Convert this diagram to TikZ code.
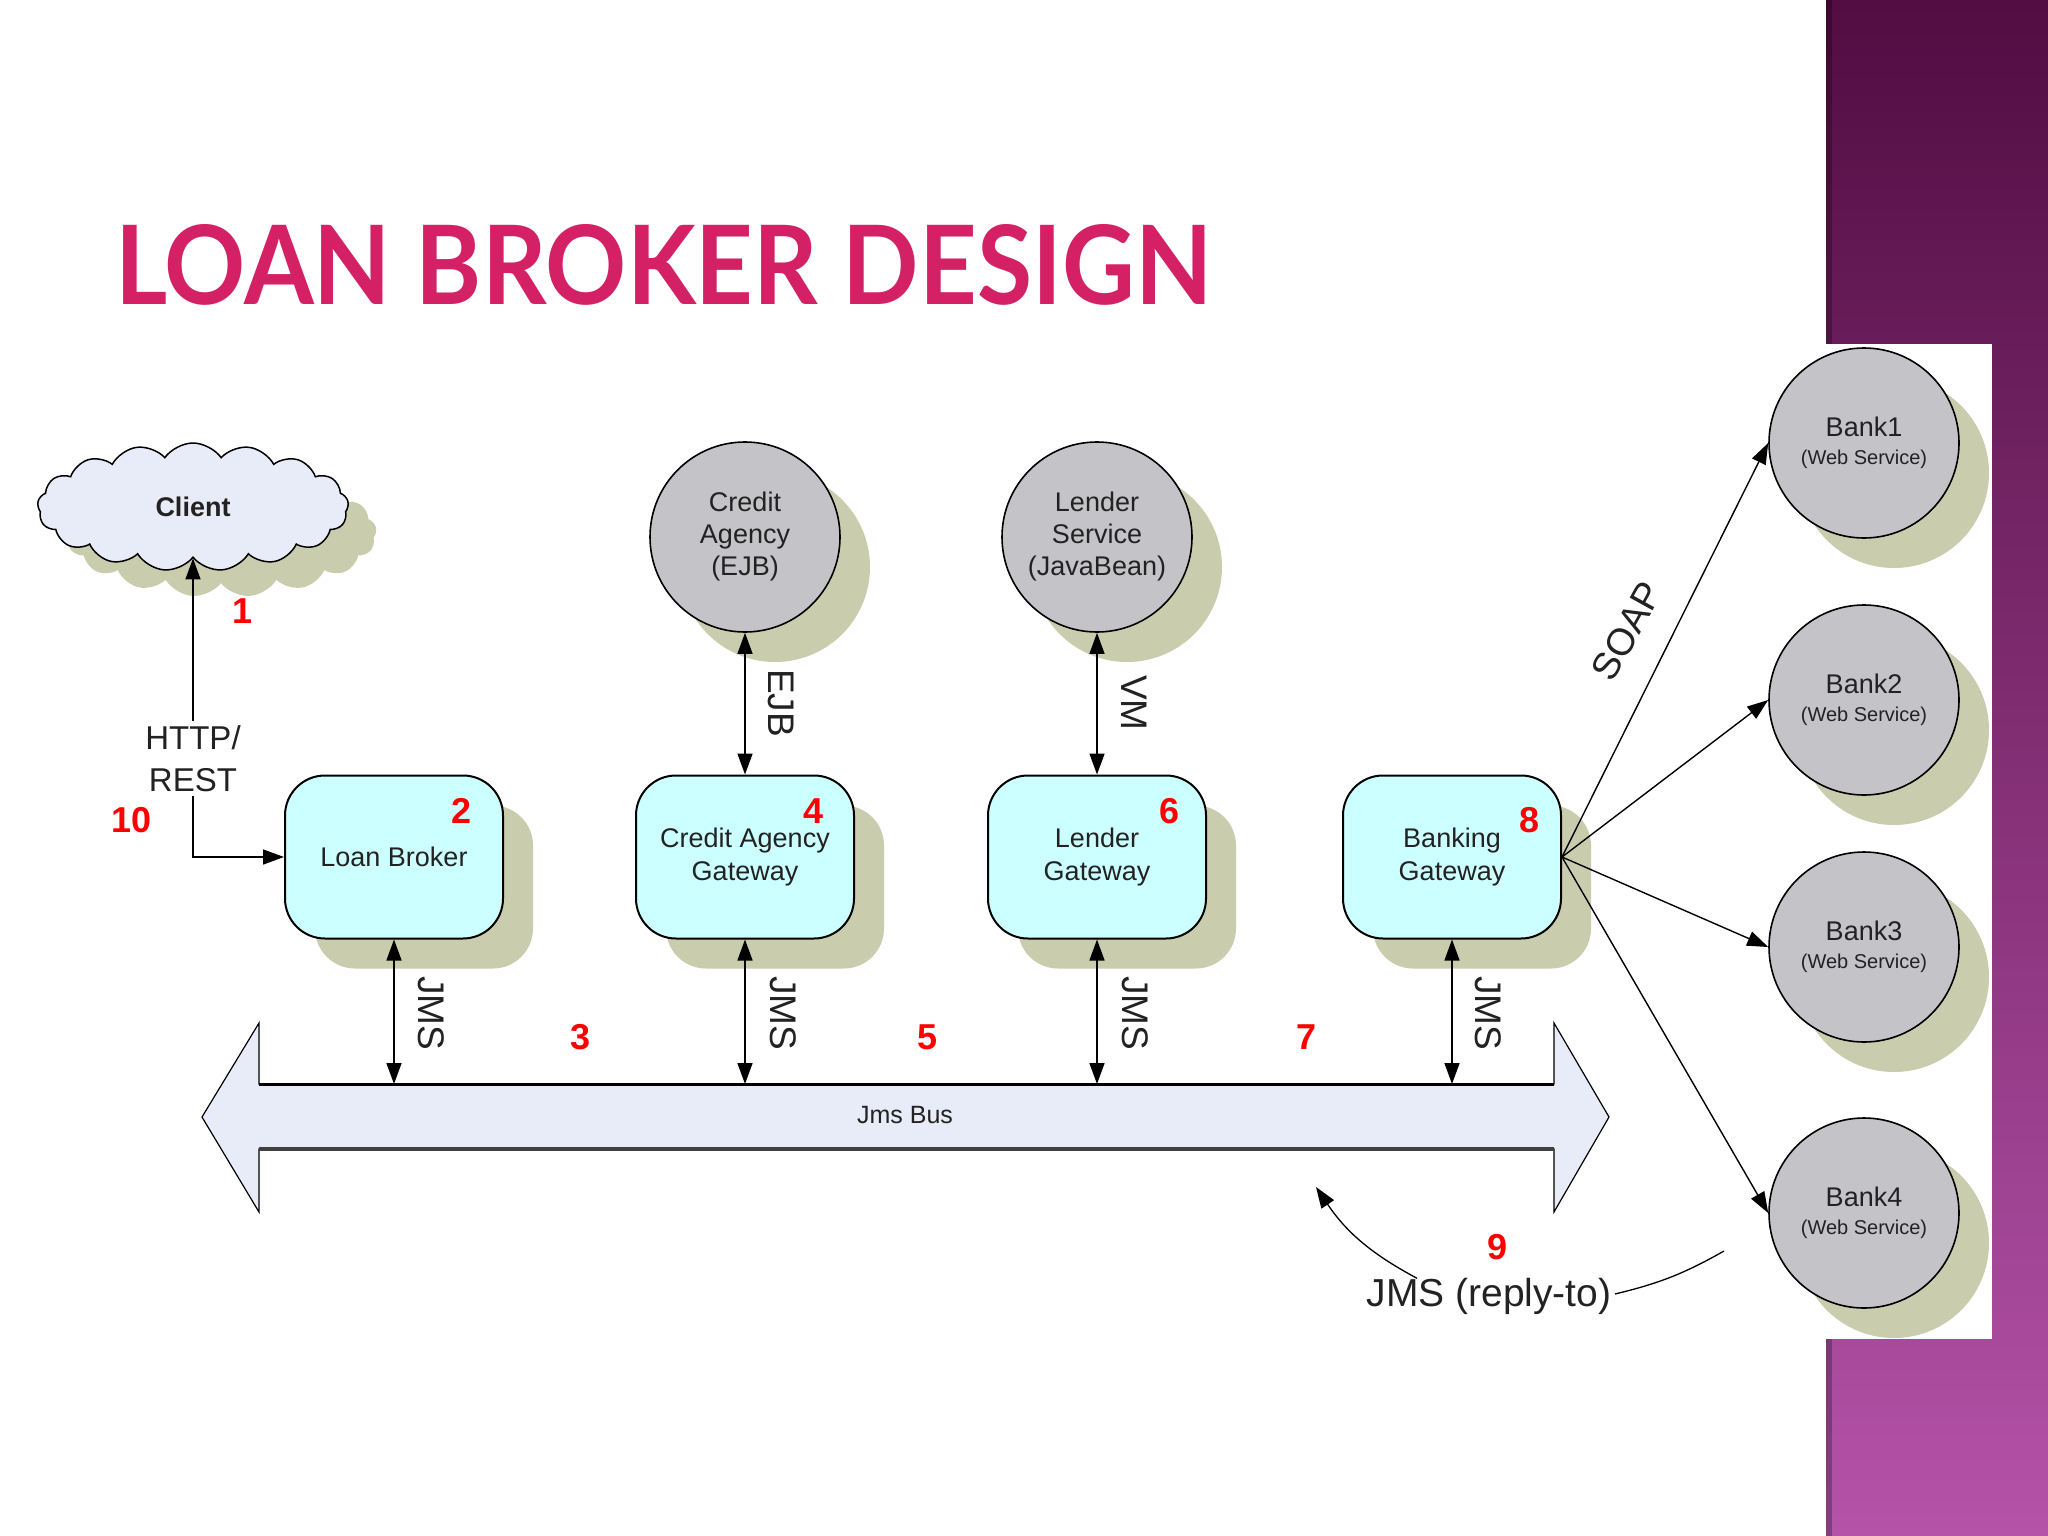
\documentclass[tikz,border=0pt]{standalone}
\usepackage{graphicx}
\usepackage{fontspec}
\setmainfont{Liberation Sans}
\newfontfamily\titlefont{Lato}
\usetikzlibrary{shapes.symbols,shadows,arrows.meta,calc}
\definecolor{titlecol}{HTML}{D42064}
\definecolor{shcol}{HTML}{C9CDAE}
\definecolor{boxfill}{HTML}{CCFFFF}
\definecolor{circfill}{HTML}{C4C4C8}
\definecolor{cloudfill}{HTML}{E8ECF8}
\definecolor{busfill}{HTML}{E8ECF8}
\definecolor{txt}{HTML}{222222}
\definecolor{purtop}{HTML}{520D42}
\definecolor{purbot}{HTML}{B552A9}
\newcommand{\fs}[2]{\fontsize{#1}{#2}\selectfont}
\begin{document}
\begin{tikzpicture}[x=1pt,y=-1pt,
  shad/.style={drop shadow={shadow xshift=30pt,shadow yshift=-30pt,fill=shcol,opacity=1}},
  gate/.style={shad,draw=black,line width=2pt,fill=boxfill,rounded corners=40pt,
    minimum width=218pt,minimum height=163pt,align=center,font=\fs{27}{33},text=txt},
  svc/.style={shad,circle,draw=black,line width=1.6pt,fill=circfill,minimum size=190pt,
    inner sep=0pt,align=center,font=\fs{27}{32},text=txt},
  num/.style={text=red,font=\fs{36}{36}\bfseries},
  lbl/.style={font=\fs{37}{37},text=txt},
  conn/.style={line width=1.5pt,{Triangle[length=21pt,width=15pt]}-{Triangle[length=21pt,width=15pt]}},
  oneway/.style={line width=1.4pt,-{Triangle[length=21pt,width=15pt]}}
]
\useasboundingbox (0,0) rectangle (2048,1536);
% background
\fill[white] (0,0) rectangle (2048,1536);
\shade[top color=purtop,bottom color=purbot] (1826,0) rectangle (2048,1536);
\fill[black,opacity=0.25] (1826,0) rectangle (1832,1536);
\fill[white] (1826,344) rectangle (1992,1339);

% title
\node[anchor=base west,inner sep=0pt,text=titlecol] (title) at (115,304)
  {\resizebox{1096pt}{80pt}{\titlefont\bfseries LOAN BROKER DESIGN}};

% client
\node[cloud,cloud puffs=17,cloud puff arc=110,aspect=2.5,draw=black,line width=1.5pt,
  fill=cloudfill,minimum width=311pt,minimum height=128pt,
  drop shadow={shadow xshift=28pt,shadow yshift=-26pt,fill=shcol,opacity=1},
  font=\fs{27}{27}\bfseries,text=txt] (client) at (193,507) {Client};

% gateways
\node[gate] (lb) at (394,857) {Loan Broker};
\node[gate] (cag) at (745,857) {Credit Agency\\Gateway};
\node[gate] (lg) at (1097,857) {Lender\\Gateway};
\node[gate] (bg) at (1452,857) {Banking\\Gateway};

% services
\node[svc] (ca) at (745,537) {Credit\\Agency\\(EJB)};
\node[svc] (ls) at (1097,537) {Lender\\Service\\(JavaBean)};

% banks
\node[svc] (b1) at (1864,443) {Bank1\\[-4pt]{\fs{20}{20}(Web Service)}};
\node[svc] (b2) at (1864,700) {Bank2\\[-4pt]{\fs{20}{20}(Web Service)}};
\node[svc] (b3) at (1864,947) {Bank3\\[-4pt]{\fs{20}{20}(Web Service)}};
\node[svc] (b4) at (1864,1213) {Bank4\\[-4pt]{\fs{20}{20}(Web Service)}};

% bus
\draw[line width=1.2pt,fill=busfill] (202,1117) -- (259,1023) -- (259,1084) -- (1554,1084)
  -- (1554,1023) -- (1609,1117) -- (1554,1212) -- (1554,1149) -- (259,1149) -- (259,1212) -- cycle;
\draw[line width=3pt] (259,1084) -- (1554,1084);
\draw[line width=3.5pt,black!75] (259,1149) -- (1554,1149);
\coordinate (bustop) at (0,1084);
\node[font=\fs{25}{25},text=txt] (busname) at (905,1115) {Jms Bus};

% client <-> loan broker
\draw[conn] (client.south) -- node[pos=0.67,fill=white,inner sep=4pt,align=center,
  font=\fs{33}{42},text=txt] (http) {HTTP/\\REST} (client.south |- lb.west) -- (lb.west);

% JMS links
\draw[conn] (lb.south) -- (lb.south |- bustop);
\draw[conn] (cag.south) -- (cag.south |- bustop);
\draw[conn] (lg.south) -- (lg.south |- bustop);
\draw[conn] (bg.south) -- (bg.south |- bustop);
\node[lbl,rotate=-90] (jms1) at (431,1013) {JMS};
\node[lbl,rotate=-90] (jms2) at (783,1013) {JMS};
\node[lbl,rotate=-90] (jms3) at (1135,1013) {JMS};
\node[lbl,rotate=-90] (jms4) at (1488,1013) {JMS};

% EJB / VM
\draw[conn] (cag.north) -- (ca.south);
\draw[conn] (lg.north) -- (ls.south);
\node[lbl,rotate=-90] (ejb) at (781,703) {EJB};
\node[lbl,rotate=-90] (vm) at (1134,703) {VM};

% SOAP to banks
\draw[oneway] (bg.east) -- (b1.west);
\draw[oneway] (bg.east) -- (b2.west);
\draw[oneway] (bg.east) -- (b3.west);
\draw[oneway] (bg.east) -- (b4.west);
\node[lbl,font=\fs{38}{38},rotate=61] (soap) at (1627,631) {SOAP};

% reply-to
\node[lbl,font=\fs{39}{39}] (reply) at (1489,1296) {JMS (reply-to)};
\coordinate (replyend) at (1316,1187);
\coordinate (b4end) at (1724,1251);
\draw[oneway,line width=1.3pt] ([xshift=54pt,yshift=-4pt]reply.north west) to[bend left=14] (replyend);
\draw[line width=1.3pt] ([yshift=2pt]reply.east) to[bend right=8] (b4end);

% numbers
\node[num] (n1) at (243,611) {1};
\node[num] (n2) at (462,811) {2};
\node[num] (n3) at (581,1037) {3};
\node[num] (n4) at (814,811) {4};
\node[num] (n5) at (927,1037) {5};
\node[num] (n6) at (1169,811) {6};
\node[num] (n7) at (1306,1037) {7};
\node[num] (n8) at (1529,820) {8};
\node[num] (n9) at (1497,1247) {9};
\node[num] (n10) at (132,820) {10};
\end{tikzpicture}
\end{document}
